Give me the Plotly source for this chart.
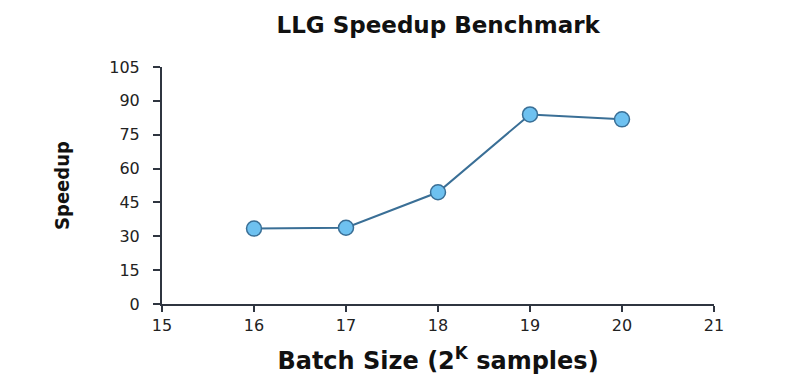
import plotly.graph_objects as go

batch_k = [16, 17, 18, 19, 20]
speedup = [33.4, 33.8, 49.5, 84.0, 81.8]
y_ticks = [0, 15, 30, 45, 60, 75, 90, 105]
x_ticks = [15, 16, 17, 18, 19, 20, 21]

axis_color = "#2f3540"
line_color = "#3a6f96"
marker_fill = "#6ec1f0"

fig = go.Figure()
fig.add_trace(go.Scatter(
    x=batch_k, y=speedup, mode="lines+markers",
    line=dict(color=line_color, width=2),
    marker=dict(size=15, color=marker_fill, line=dict(color=line_color, width=1.5)),
    showlegend=False,
))

fig.update_layout(
    width=785, height=384,
    margin=dict(l=154, r=79, t=59, b=88),
    paper_bgcolor="white", plot_bgcolor="white",
    title=dict(text="<b>LLG Speedup Benchmark</b>", x=0.548, xanchor="center", y=0.956, yanchor="middle",
               font=dict(family="DejaVu Sans", size=23, color="#111111")),
    font=dict(family="DejaVu Sans", color="#222222"),
)
fig.update_xaxes(
    range=[15, 21], tickvals=x_ticks, ticktext=[str(v) for v in x_ticks],
    showgrid=False, zeroline=False, showline=True, linecolor=axis_color, linewidth=2,
    ticks="outside", ticklen=6, tickwidth=2, tickcolor=axis_color,
    tickfont=dict(size=16, color="#222222", family="DejaVu Sans"),
    title=dict(text="<b>Batch Size (2<sup>K</sup> samples)</b>", standoff=18,
               font=dict(size=24, family="DejaVu Sans", color="#111111")),
)
fig.update_yaxes(
    range=[0, 105], tickvals=y_ticks, ticktext=[str(v) for v in y_ticks],
    showgrid=False, zeroline=False, showline=True, linecolor=axis_color, linewidth=2,
    ticks="outside", ticklen=7, tickwidth=2, tickcolor=axis_color, ticklabelstandoff=10,
    tickfont=dict(size=16, color="#222222", family="DejaVu Sans"),
    title=dict(text="<b>Speedup</b>", standoff=34,
               font=dict(size=20, family="DejaVu Sans Condensed, Liberation Sans Narrow, Liberation Sans", color="#111111")),
)

fig.write_html("out.html")
